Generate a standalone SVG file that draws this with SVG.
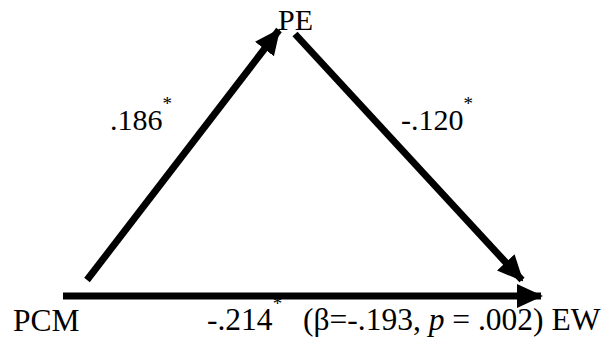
<svg xmlns="http://www.w3.org/2000/svg" width="603" height="341" viewBox="0 0 603 341">
<style>
text{font-family:"Liberation Serif","Times New Roman","DejaVu Serif",serif;font-size:30px;fill:#000}
.big{font-size:31.5px}
.sup{font-size:19px}
.ln{stroke:#000;stroke-width:7;fill:none}
</style>
<defs>
<marker id="ah" markerUnits="userSpaceOnUse" markerWidth="26" markerHeight="24" refX="24" refY="12" orient="auto">
<path d="M0,0 L26,12 L0,24 Z" fill="#000"/>
</marker>
</defs>
<rect width="603" height="341" fill="#fff"/>
<g id="connectors">
<line class="ln" x1="87" y1="280" x2="279" y2="30" marker-end="url(#ah)"/>
<line class="ln" x1="295" y1="34" x2="522" y2="280" marker-end="url(#ah)"/>
<line class="ln" x1="63" y1="296" x2="541" y2="296" marker-end="url(#ah)"/>
</g>
<g id="PE"><text x="278" y="30">PE</text></g>
<g id="PCM"><text class="big" x="13" y="331">PCM</text></g>
<g id="EW"><text class="big" x="207" y="330">-.214<tspan class="sup" dy="-20">*</tspan><tspan x="303" y="330">(β=-.193, </tspan><tspan font-style="italic">p</tspan> = .002) EW</text></g>
<g id="l1"><text x="110" y="130">.186<tspan class="sup" dy="-20">*</tspan></text></g>
<g id="l2"><text x="401" y="130">-.120<tspan class="sup" dy="-20">*</tspan></text></g>
</svg>
